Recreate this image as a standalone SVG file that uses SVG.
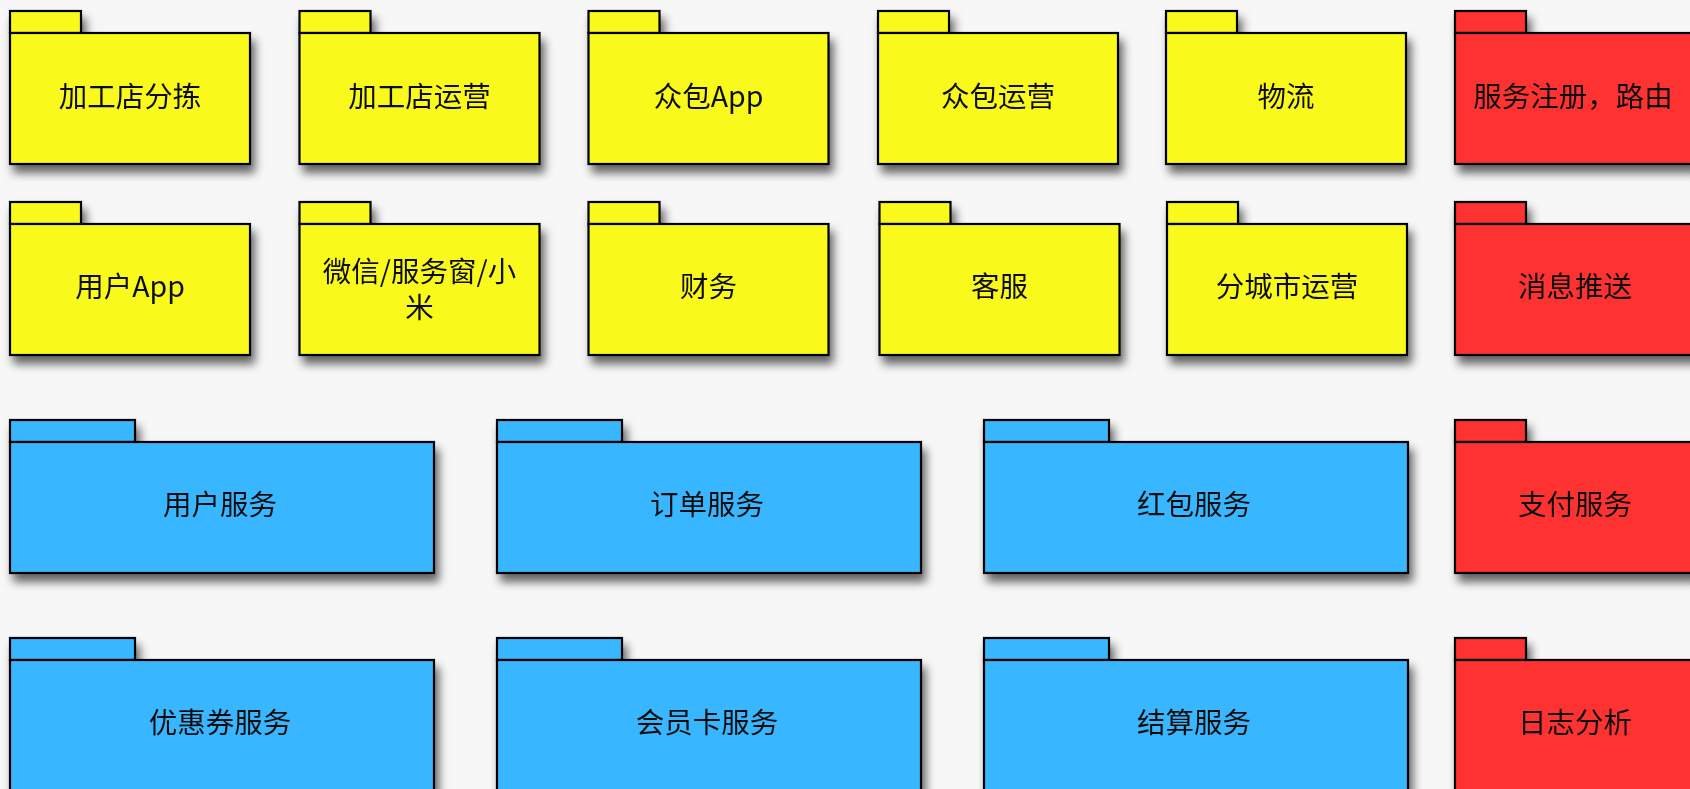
<svg xmlns="http://www.w3.org/2000/svg" width="1690" height="789" viewBox="0 0 1690 789">
<defs>
<filter id="sh" x="-10%" y="-10%" width="130%" height="150%">
<feDropShadow dx="4" dy="8" stdDeviation="5" flood-color="#000" flood-opacity="0.6"/>
</filter>
<style>
.n{filter:url(#sh)}
.n rect{stroke:#000;stroke-width:2.2}
.y rect{fill:#F9FA1E}
.b rect{fill:#38B6FF}
.r rect{fill:#FF3131}
text{font-family:"Noto Sans CJK SC","Noto Sans",sans-serif;font-size:28.5px;font-weight:400;fill:#111;text-anchor:middle}
</style>
</defs>
<rect width="1690" height="789" fill="#F7F7F7"/>
<g id="connectors"/>
<!-- row 1 -->
<g id="n1" class="n y"><rect x="10" y="11" width="71" height="22"/><rect x="10" y="33" width="240" height="131"/><text x="130" y="107">加工店分拣</text></g>
<g id="n2" class="n y"><rect x="299.5" y="11" width="71" height="22"/><rect x="299.5" y="33" width="240" height="131"/><text x="419.5" y="107">加工店运营</text></g>
<g id="n3" class="n y"><rect x="588.5" y="11" width="71" height="22"/><rect x="588.5" y="33" width="240" height="131"/><text x="708.5" y="107">众包App</text></g>
<g id="n4" class="n y"><rect x="878" y="11" width="71" height="22"/><rect x="878" y="33" width="240" height="131"/><text x="998" y="107">众包运营</text></g>
<g id="n5" class="n y"><rect x="1166" y="11" width="71" height="22"/><rect x="1166" y="33" width="240" height="131"/><text x="1286" y="107">物流</text></g>
<g id="n6" class="n r"><rect x="1455" y="11" width="71" height="22"/><rect x="1455" y="33" width="240" height="131"/><text x="1573" y="107">服务注册，路由</text></g>
<!-- row 2 -->
<g id="n7" class="n y"><rect x="10" y="202" width="71" height="22"/><rect x="10" y="224" width="240" height="131"/><text x="130" y="297">用户App</text></g>
<g id="n8" class="n y"><rect x="299.5" y="202" width="71" height="22"/><rect x="299.5" y="224" width="240" height="131"/><text x="419.5" y="282">微信/服务窗/小</text><text x="419.5" y="318">米</text></g>
<g id="n9" class="n y"><rect x="588.5" y="202" width="71" height="22"/><rect x="588.5" y="224" width="240" height="131"/><text x="708.5" y="297">财务</text></g>
<g id="n10" class="n y"><rect x="879.5" y="202" width="71" height="22"/><rect x="879.5" y="224" width="240" height="131"/><text x="999.5" y="297">客服</text></g>
<g id="n11" class="n y"><rect x="1167" y="202" width="71" height="22"/><rect x="1167" y="224" width="240" height="131"/><text x="1287" y="297">分城市运营</text></g>
<g id="n12" class="n r"><rect x="1455" y="202" width="71" height="22"/><rect x="1455" y="224" width="240" height="131"/><text x="1575" y="297">消息推送</text></g>
<!-- row 3 -->
<g id="n13" class="n b"><rect x="10" y="420" width="125" height="22"/><rect x="10" y="442" width="424" height="131"/><text x="220" y="515">用户服务</text></g>
<g id="n14" class="n b"><rect x="497" y="420" width="125" height="22"/><rect x="497" y="442" width="424" height="131"/><text x="707" y="515">订单服务</text></g>
<g id="n15" class="n b"><rect x="984" y="420" width="125" height="22"/><rect x="984" y="442" width="424" height="131"/><text x="1194" y="515">红包服务</text></g>
<g id="n16" class="n r"><rect x="1455" y="420" width="71" height="22"/><rect x="1455" y="442" width="240" height="131"/><text x="1575" y="515">支付服务</text></g>
<!-- row 4 -->
<g id="n17" class="n b"><rect x="10" y="638" width="125" height="22"/><rect x="10" y="660" width="424" height="131"/><text x="220" y="733">优惠券服务</text></g>
<g id="n18" class="n b"><rect x="497" y="638" width="125" height="22"/><rect x="497" y="660" width="424" height="131"/><text x="707" y="733">会员卡服务</text></g>
<g id="n19" class="n b"><rect x="984" y="638" width="125" height="22"/><rect x="984" y="660" width="424" height="131"/><text x="1194" y="733">结算服务</text></g>
<g id="n20" class="n r"><rect x="1455" y="638" width="71" height="22"/><rect x="1455" y="660" width="240" height="131"/><text x="1575" y="733">日志分析</text></g>
</svg>
